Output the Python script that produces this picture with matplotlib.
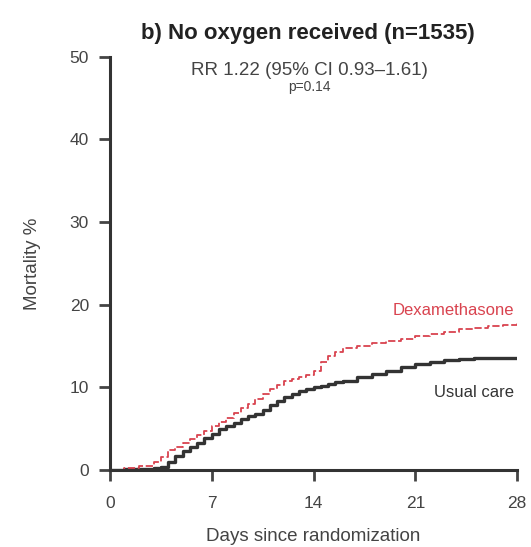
import matplotlib
matplotlib.use("Agg")
import matplotlib.pyplot as plt

# values (cumulative mortality, %)
dexa_days = [0, 1, 2, 3, 3.5, 4, 4.5, 5, 5.5, 6, 6.5, 7, 7.5, 8, 8.5, 9, 9.5, 10,
             10.5, 11, 11.5, 12, 12.5, 13, 13.5, 14, 14.5, 15, 15.5, 16, 17, 18,
             19, 20, 21, 22, 23, 24, 25, 26, 27, 28]
dexa_mort = [0, 0.2, 0.5, 1.0, 1.5, 2.4, 2.8, 3.2, 3.7, 4.2, 4.7, 5.3, 5.8, 6.3,
             6.9, 7.5, 8.0, 8.6, 9.2, 9.8, 10.3, 10.7, 11.0, 11.3, 11.5, 12.0,
             13.0, 13.8, 14.3, 14.7, 15.0, 15.3, 15.6, 15.9, 16.2, 16.4, 16.7,
             17.0, 17.2, 17.4, 17.6, 17.8]

usual_days = [0, 1, 2, 3, 3.5, 4, 4.5, 5, 5.5, 6, 6.5, 7, 7.5, 8, 8.5, 9, 9.5, 10,
              10.5, 11, 11.5, 12, 12.5, 13, 13.5, 14, 14.5, 15, 15.5, 16, 17, 18,
              19, 20, 21, 22, 23, 24, 25, 26, 27, 28]
usual_mort = [0, 0.05, 0.1, 0.2, 0.4, 1.0, 1.7, 2.3, 2.8, 3.2, 3.8, 4.4, 4.9, 5.3,
              5.7, 6.1, 6.5, 6.8, 7.2, 7.8, 8.3, 8.8, 9.2, 9.5, 9.8, 10.0, 10.2,
              10.4, 10.6, 10.8, 11.2, 11.6, 12.0, 12.4, 12.8, 13.1, 13.3, 13.4,
              13.5, 13.5, 13.6, 13.6]

x_ticks = [0, 7, 14, 21, 28]
y_ticks = [0, 10, 20, 30, 40, 50]

plt.rcParams['font.family'] = ['Liberation Sans', 'DejaVu Sans']

fig = plt.figure(figsize=(5.31, 5.47), dpi=100)
ax = fig.add_axes([0.207, 0.141, 0.767, 0.755])

ax.step(usual_days, usual_mort, where='post', color='#333333', lw=2.4)
ax.step(dexa_days, dexa_mort, where='post', color='#d9434f', lw=1.3,
        linestyle=(0, (4, 1.5)))

ax.set_xlim(0, 28)
ax.set_ylim(0, 50)
ax.set_xticks(x_ticks)
ax.set_yticks(y_ticks)
ax.tick_params(direction='out', length=8, width=2, labelsize=12.5,
               colors='#444444', pad=7)
ax.tick_params(axis='x', pad=11)

for side in ['top', 'right']:
    ax.spines[side].set_visible(False)
for side in ['left', 'bottom']:
    ax.spines[side].set_linewidth(2.2)
    ax.spines[side].set_color('#333333')

ax.set_xlabel('Days since randomization', fontsize=13.5, color='#444444',
              labelpad=12)
ax.set_ylabel('Mortality %', fontsize=13.5, color='#444444', labelpad=21)

fig.text(0.58, 0.938, 'b) No oxygen received (n=1535)', ha='center', va='center',
         fontsize=16, fontweight='bold', color='#222222')
ax.text(0.49, 0.968, 'RR 1.22 (95% CI 0.93\u20131.61)', transform=ax.transAxes,
        ha='center', va='center', fontsize=13.5, color='#444444')
ax.text(0.49, 0.928, 'p=0.14', transform=ax.transAxes,
        ha='center', va='center', fontsize=10, color='#444444')

ax.text(27.8, 19.3, 'Dexamethasone', ha='right', va='center', fontsize=12,
        color='#d9434f')
ax.text(27.8, 9.4, 'Usual care', ha='right', va='center', fontsize=12,
        color='#333333')

fig.savefig('out.png', dpi=100)
